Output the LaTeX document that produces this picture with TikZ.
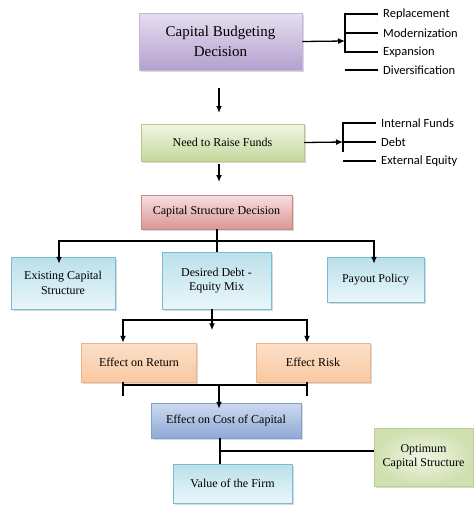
\documentclass[tikz,border=0pt]{standalone}
\usepackage{fontspec}
\setmainfont{Liberation Serif}
\newfontfamily\sidefont{Carlito}
\usetikzlibrary{arrows.meta,shadows}
\definecolor{lilactop}{RGB}{230,222,240}
\definecolor{lilacbot}{RGB}{180,160,206}
\definecolor{lilacrim}{RGB}{196,182,218}
\definecolor{leaftop}{RGB}{240,246,228}
\definecolor{leafbot}{RGB}{196,216,156}
\definecolor{leafrim}{RGB}{178,202,132}
\definecolor{rosetop}{RGB}{247,224,224}
\definecolor{rosebot}{RGB}{218,150,148}
\definecolor{roserim}{RGB}{206,134,132}
\definecolor{aquatop}{RGB}{186,224,234}
\definecolor{aquabot}{RGB}{234,246,250}
\definecolor{aquarim}{RGB}{120,190,210}
\definecolor{peachtop}{RGB}{252,224,200}
\definecolor{peachbot}{RGB}{249,200,160}
\definecolor{peachrim}{RGB}{236,180,136}
\definecolor{steeltop}{RGB}{204,218,238}
\definecolor{steelbot}{RGB}{142,170,214}
\definecolor{steelrim}{RGB}{130,160,206}
\definecolor{sagetop}{RGB}{232,240,214}
\definecolor{sagebot}{RGB}{214,228,184}
\definecolor{sagerim}{RGB}{186,206,148}
\definecolor{sageinn}{RGB}{240,245,226}
\definecolor{sageout}{RGB}{208,224,176}

\begin{document}
\begin{tikzpicture}[x=1pt,y=-1pt,
  box/.style={draw=#1rim, line width=0.5pt, align=center,
    font=\fontsize{12}{14.5}\selectfont, inner sep=2pt,
    top color=#1top, bottom color=#1bot,
    drop shadow={opacity=0.3,shadow xshift=1.5pt,shadow yshift=-1.5pt}},
  sidelab/.style={anchor=west, inner xsep=5pt, inner ysep=1pt,
    font=\sidefont\fontsize{12.5}{14}\selectfont},
  line/.style={line width=1.3pt},
  arr/.style={line width=1.3pt, -{Latex[length=7pt,width=6pt]}}]
\useasboundingbox (0,0) rectangle (474,517);

% boxes
\node[box=lilac, minimum width=163pt, minimum height=57pt,
  font=\fontsize{15}{20}\selectfont] (budget) at (220.5,41.5) {Capital Budgeting\\Decision};
\node[box=leaf, minimum width=163pt, minimum height=37pt] (funds) at (222.5,142.5) {Need to Raise Funds};
\node[box=rose, minimum width=151pt, minimum height=34pt] (csd) at (216.5,212) {Capital Structure Decision};
\node[box=aqua, minimum width=104pt, minimum height=52pt] (exist) at (63,283) {Existing Capital\\Structure};
\node[box=aqua, minimum width=109pt, minimum height=57pt] (desired) at (216.5,280.5) {Desired Debt -\\Equity Mix};
\node[box=aqua, minimum width=97pt, minimum height=45pt] (payout) at (375.5,279.5) {Payout Policy};
\node[box=peach, minimum width=115pt, minimum height=39pt] (ret) at (139,362.5) {Effect on Return};
\node[box=peach, minimum width=114pt, minimum height=39pt] (risk) at (313,362.5) {Effect Risk};
\node[box=steel, minimum width=150pt, minimum height=35pt] (cost) at (226,420.5) {Effect on Cost of Capital};
\node[box=aqua, minimum width=119pt, minimum height=39pt] (firm) at (232.5,483.5) {Value of the Firm};
\node[box=sage, minimum width=99pt, minimum height=58pt,
  inner color=sageinn, outer color=sageout] (optimum) at (423.5,457) {Optimum\\Capital Structure};

% side lists
\node[sidelab] (repl) at (378,14) {Replacement};
\node[sidelab] (mode) at (378,33) {Modernization};
\node[sidelab] (expa) at (378,52) {Expansion};
\node[sidelab] (dive) at (378,70) {Diversification};
\node[sidelab] (inte) at (376,123) {Internal Funds};
\node[sidelab] (debt) at (376,142) {Debt};
\node[sidelab] (exte) at (376,161) {External Equity};

\coordinate (bj) at (345,41);
\draw[arr] (budget.east) -- (bj);
\draw[line] (repl.west) -- ++(-33,0) |- (expa.west);
\draw[line] (mode.west) -- ++(-33,0);
\draw[line] (dive.west) -- ++(-33,0);

\coordinate (fj) at (343,142);
\draw[arr] (funds.east) -- (fj);
\draw[line] (inte.west) -- ++(-33,0) -- ++(0,29);
\draw[line] (debt.west) -- ++(-33,0);
\draw[line] (exte.west) -- ++(-33,0);

% main column
\draw[arr, shorten <=18pt, shorten >=11pt] (219,70) -- (219,124);
\draw[arr, shorten <=3pt, shorten >=12pt] (219,161) -- (219,194);

\coordinate (cj) at (217,241);
\draw[line] (csd.south -| cj) -- (desired.north -| cj);
\draw[arr, shorten >=-7pt] (cj) -| (exist.north -| 59,0);
\draw[arr, shorten >=-7pt] (cj) -| (payout.north -| 374,0);

\coordinate (dj) at (212,320);
\draw[arr] (desired.south -| dj) -- ++(0,21);
\draw[arr] (dj) -| (ret.north -| 123,0);
\draw[arr] (dj) -| (risk.north -| 307,0);

\coordinate (ej) at (219,385);
\draw[line] (ret.south -| 123,0) -- ++(0,14);
\draw[line] (risk.south -| 307,0) -- ++(0,14);
\draw[line] (123,385) -- (307,385);
\draw[arr, shorten >=-6pt] (ej) -- (cost.north -| ej);

\coordinate (gj) at (220,451);
\draw[line] (cost.south -| gj) -- (firm.north -| gj);
\draw[line] (gj) -- (optimum.west |- gj);
\end{tikzpicture}
\end{document}
